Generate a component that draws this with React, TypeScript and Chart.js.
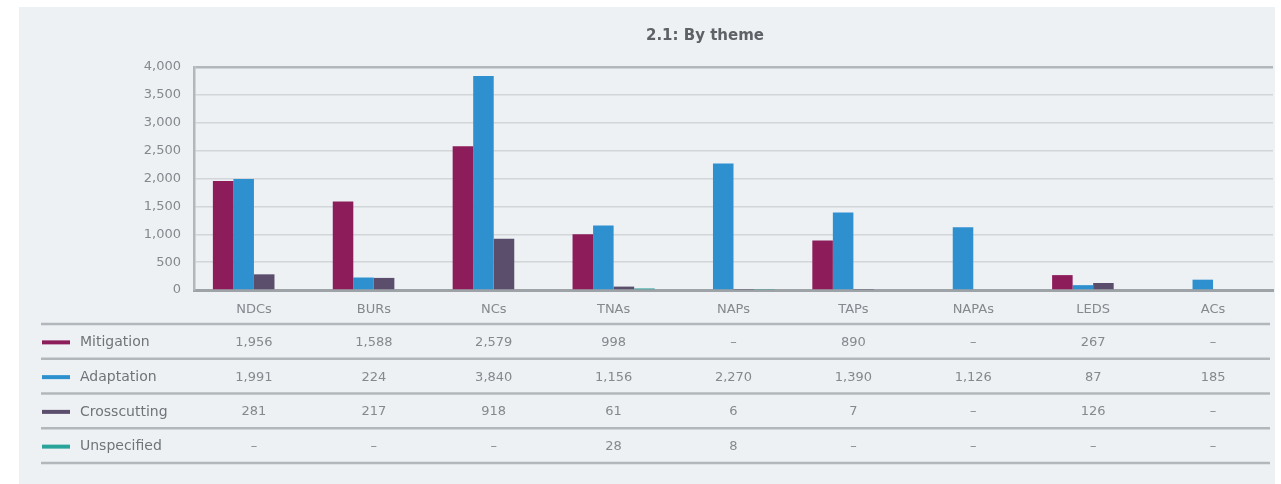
import React, { useEffect, useRef } from "react";
import { Chart, registerables } from "chart.js";

Chart.register(...registerables);

const TITLE = "2.1: By theme";
const categories = ["NDCs", "BURs", "NCs", "TNAs", "NAPs", "TAPs", "NAPAs", "LEDS", "ACs"];
const mitigation = [1956, 1588, 2579, 998, null, 890, null, 267, null];
const adaptation = [1991, 224, 3840, 1156, 2270, 1390, 1126, 87, 185];
const crosscutting = [281, 217, 918, 61, 6, 7, null, 126, null];
const unspecified = [null, null, null, 28, 8, null, null, null, null];
const seriesNames = ["Mitigation", "Adaptation", "Crosscutting", "Unspecified"];
const seriesColors = ["#8c1c5a", "#2f90d0", "#5a4e6c", "#2aa39b"];
const yMax = 4000;
const yStep = 500;

const FONT = "'DejaVu Sans', sans-serif";
const fmt = (v: number | null) => (v == null ? "–" : v.toLocaleString("en-US"));

// Title above the plot
const titlePlugin = {
  id: "titleText",
  afterDraw(chart: any) {
    const { ctx } = chart;
    ctx.save();
    ctx.font = `bold 15px ${FONT}`;
    ctx.fillStyle = "#5e6266";
    ctx.textAlign = "center";
    ctx.textBaseline = "middle";
    ctx.fillText(TITLE, 705, 36);
    ctx.restore();
  },
};

// Data table under the x axis, one row per series, columns aligned to the categories
const tablePlugin = {
  id: "dataTable",
  afterDraw(chart: any) {
    const { ctx, chartArea } = chart;
    const x = chart.scales.x;
    const top = chartArea.bottom + 34;
    const rowH = 34.75;
    const left = 41;
    const right = 1270;
    ctx.save();
    ctx.strokeStyle = "#b2b7bb";
    ctx.lineWidth = 2.5;
    for (let r = 0; r <= chart.data.datasets.length; r++) {
      const y = top + r * rowH;
      ctx.beginPath();
      ctx.moveTo(left, y);
      ctx.lineTo(right, y);
      ctx.stroke();
    }
    ctx.textBaseline = "middle";
    chart.data.datasets.forEach((ds: any, r: number) => {
      const cy = top + rowH * (r + 0.5) + 1;
      ctx.strokeStyle = ds.backgroundColor;
      ctx.lineWidth = 4;
      ctx.beginPath();
      ctx.moveTo(42, cy);
      ctx.lineTo(70, cy);
      ctx.stroke();
      ctx.fillStyle = "#707478";
      ctx.font = `14px ${FONT}`;
      ctx.textAlign = "left";
      ctx.fillText(ds.label, 80, cy);
      ctx.fillStyle = "#85898d";
      ctx.font = `13px ${FONT}`;
      ctx.textAlign = "center";
      ds.data.forEach((v: number | null, i: number) => {
        ctx.fillText(fmt(v), x.getPixelForTick(i), cy);
      });
    });
    ctx.restore();
  },
};

export default function App() {
  const canvasRef = useRef<HTMLCanvasElement | null>(null);

  useEffect(() => {
    const canvas = canvasRef.current;
    if (!canvas) return;
    const seriesData = [mitigation, adaptation, crosscutting, unspecified];
    const chart = new Chart(canvas, {
      type: "bar",
      data: {
        labels: categories,
        datasets: seriesData.map((d, i) => ({
          label: seriesNames[i],
          data: d,
          backgroundColor: seriesColors[i],
          borderWidth: 0,
          categoryPercentage: 0.685,
          barPercentage: 1,
        })),
      },
      options: {
        responsive: false,
        animation: false,
        devicePixelRatio: 1,
        layout: { padding: { left: 0, right: 8, top: 67, bottom: 164 } },
        plugins: {
          legend: { display: false },
          tooltip: { enabled: false },
          title: { display: false },
        },
        scales: {
          x: {
            grid: { display: false, drawTicks: false },
            border: { display: true, color: "#9ea3a7", width: 3 },
            ticks: {
              color: "#85898d",
              font: { family: FONT, size: 13 },
              padding: 12,
            },
            afterFit(scale: any) {
              scale.height = 30;
            },
          },
          y: {
            min: 0,
            max: yMax,
            ticks: {
              stepSize: yStep,
              color: "#85898d",
              font: { family: FONT, size: 13 },
              padding: 13,
              callback: (v: any) => Number(v).toLocaleString("en-US"),
            },
            grid: {
              drawTicks: false,
              color: (c: any) => (c.tick && c.tick.value === yMax ? "#b2b7bb" : "#d2d6d9"),
              lineWidth: (c: any) => (c.tick && c.tick.value === yMax ? 2.5 : 1.5),
            },
            border: { display: true, color: "#b2b7bb", width: 2.5 },
            afterFit(scale: any) {
              scale.width = 194;
            },
          },
        },
      },
      plugins: [titlePlugin, tablePlugin],
    });
    return () => chart.destroy();
  }, []);

  return (
    <div
      style={{
        position: "absolute",
        left: 0,
        top: 0,
        width: 1281,
        height: 484,
        background: "#ffffff",
        overflow: "hidden",
      }}
    >
      <div
        style={{
          position: "absolute",
          left: 19,
          top: 7,
          width: 1256,
          height: 477,
          background: "#edf1f4",
        }}
      />
      <canvas
        ref={canvasRef}
        width={1281}
        height={484}
        style={{ position: "absolute", left: 0, top: 0, width: 1281, height: 484 }}
      />
    </div>
  );
}
